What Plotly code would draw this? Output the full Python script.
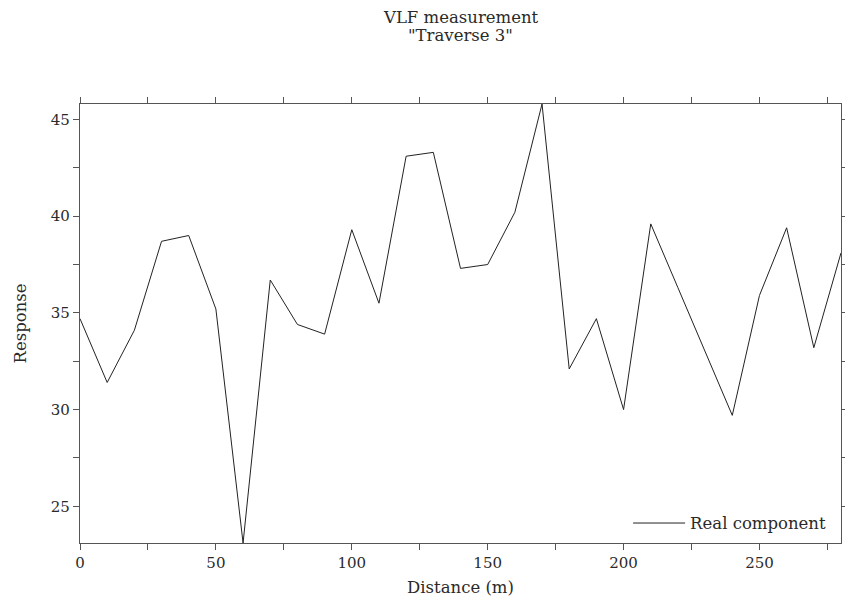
import plotly.graph_objects as go

distance = [0, 10, 20, 30, 40, 50, 60, 70, 80, 90, 100, 110, 120, 130, 140,
            150, 160, 170, 180, 190, 200, 210, 220, 230, 240, 250, 260, 270, 280]
real_component = [34.7, 31.4, 34.1, 38.7, 39.0, 35.2, 23.1, 36.7, 34.4, 33.9,
                  39.3, 35.5, 43.1, 43.3, 37.3, 37.5, 40.2, 45.8, 32.1, 34.7,
                  30.0, 39.6, 36.3, 33.0, 29.7, 35.9, 39.4, 33.2, 38.1]
series_name = "Real component"
title_lines = ["VLF measurement", "\"Traverse 3\""]
x_title = "Distance (m)"
y_title = "Response"

FONT = "DejaVu Serif, Liberation Serif, serif"
AX = "#555555"
TXT = "#2a2a2a"

fig = go.Figure()
fig.add_trace(go.Scatter(x=distance, y=real_component, mode="lines",
                         name=series_name,
                         line=dict(color="#222222", width=1)))

axis_common = dict(showline=True, linecolor=AX, linewidth=1.3, mirror="allticks",
                   ticks="outside", ticklen=6, tickwidth=1, tickcolor=AX,
                   showgrid=False, zeroline=False, automargin=False,
                   tickfont=dict(family=FONT, size=15, color=TXT))

fig.update_layout(
    width=845, height=598,
    margin=dict(l=80, r=4, t=104, b=55),
    paper_bgcolor="white", plot_bgcolor="white",
    xaxis=dict(range=[min(distance), max(distance)], dtick=50, tick0=0,
               minor=dict(dtick=25, ticks="outside", ticklen=6, tickcolor=AX),
               title=dict(text=x_title, font=dict(family=FONT, size=16.5, color=TXT), standoff=10),
               **axis_common),
    yaxis=dict(range=[min(real_component), max(real_component)], dtick=5, tick0=0,
               minor=dict(dtick=2.5, ticks="outside", ticklen=6, tickcolor=AX),
               title=dict(text=y_title, font=dict(family=FONT, size=16.5, color=TXT), standoff=19),
               **axis_common),
    legend=dict(x=0.987, xanchor="right", y=0.005, yanchor="bottom",
                bgcolor="rgba(0,0,0,0)", borderwidth=0, itemwidth=52,
                font=dict(family=FONT, size=16.5, color=TXT)),
    showlegend=True,
)

# title as two centred lines above the plot area
for i, line in enumerate(title_lines):
    fig.add_annotation(text=line, xref="paper", yref="paper", x=0.5, xanchor="center",
                       y=1 + (104 - (17 + 19 * i)) / 439, yanchor="middle",
                       showarrow=False,
                       font=dict(family=FONT, size=16.5, color=TXT))

fig.write_html("out.html")
